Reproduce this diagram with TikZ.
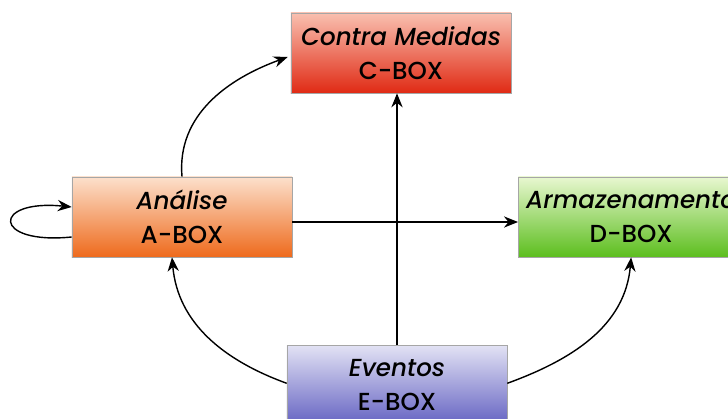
\documentclass[tikz,border=0pt]{standalone}
\usepackage{fontspec}
\setmainfont{Poppins}[BoldFont={* Medium}, BoldItalicFont={* Medium Italic}]
\usetikzlibrary{calc,arrows.meta}

\definecolor{redtop}{HTML}{F9C0B0}
\definecolor{redbot}{HTML}{E02A14}
\definecolor{orgtop}{HTML}{FCE0CC}
\definecolor{orgbot}{HTML}{EE6A1C}
\definecolor{grntop}{HTML}{E8F7D0}
\definecolor{grnbot}{HTML}{5CBE1E}
\definecolor{blutop}{HTML}{E2E2F4}
\definecolor{blubot}{HTML}{6462C2}

\tikzset{
  box/.style={draw=gray!70, minimum width=5.5cm, minimum height=2cm, align=center,
    font=\fontsize{17.5}{24.5}\selectfont\bfseries, inner sep=2pt},
  flow/.style={-{Stealth[length=10pt,width=8pt]}, line width=1pt}
}

\begin{document}
\begin{tikzpicture}[x=0.025cm,y=-0.025cm]
\useasboundingbox (0,0) rectangle (728,419);
\clip (0,0) rectangle (728,419);
\node[box, top color=redtop, bottom color=redbot] (cbox) at (401,53) {\textit{Contra Medidas}\\C-BOX};
\node[box, top color=orgtop, bottom color=orgbot] (abox) at (182,217) {\textit{Análise}\\A-BOX};
\node[box, top color=grntop, bottom color=grnbot, anchor=west, text width=5.5cm] (dbox) at (518,217) {\textit{Armazenamento}\\D-BOX};
\node[box, top color=blutop, bottom color=blubot, anchor=north] (ebox) at (397,345) {\textit{Eventos}\\E-BOX};
% arrows
\draw[flow] (abox.north) to[out=95,in=200] ($(cbox.west)+(-3,4)$);
\draw[flow] ($(abox.west)+(0,20)$) .. controls +(-80,8) and +(-80,-8) .. ($(abox.west)+(0,-10)$);
\draw[flow] ($(abox.east)+(0,5)$) -- ($(dbox.west)+(0,5)$);
\draw[flow] (ebox.north) -- ($(cbox.south)+(-4,0)$);
\draw[flow] ($(ebox.west)+(0,-2)$) to[out=160,in=-85] ($(abox.south)+(-10,0)$);
\draw[flow] ($(ebox.east)+(0,-2)$) to[out=20,in=-95] (dbox.south);
\end{tikzpicture}
\end{document}
